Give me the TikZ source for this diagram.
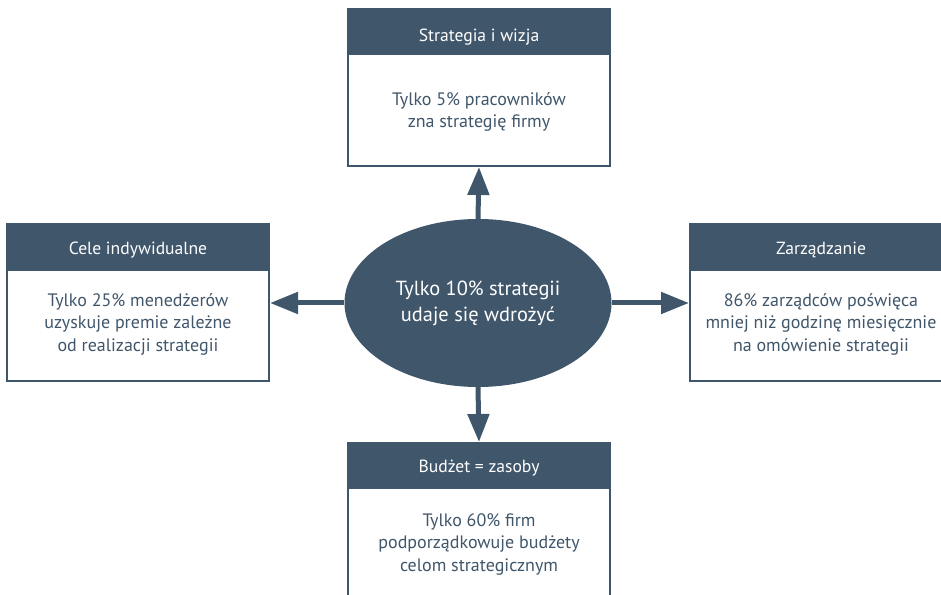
\documentclass[tikz,border=0pt]{standalone}
\usepackage{fontspec}
\setmainfont{PT Sans}
\usetikzlibrary{shapes.geometric,arrows.meta}
\definecolor{slate}{RGB}{64,86,107}
\begin{document}
\begin{tikzpicture}[x=1pt,y=1pt,
  boxframe/.style={draw=slate,line width=2pt,fill=white},
  headtext/.style={text=white,font=\fontsize{17.6}{20}\selectfont},
  bodytext/.style={text=slate,align=center,font=\fontsize{18}{22.5}\selectfont},
  conn/.style={draw=slate,line width=5pt,-{Triangle[length=28pt,width=21pt]},shorten >=1pt}
]
\useasboundingbox (0,0) rectangle (941,594);
% top box
\draw[boxframe] (348,585) rectangle (610,428);
\fill[slate] (347,586) rectangle (611,539);
\node[headtext] (th) at (479,557) {Strategia i wizja};
\node[bodytext] (tb) at (479,482) {Tylko 5\% pracowników\\zna strategię firmy};
\coordinate (tbot) at (479,428);
% left box
\draw[boxframe] (7,370) rectangle (269,213);
\fill[slate] (6,371) rectangle (270,323);
\node[headtext] (lh) at (138,344) {Cele indywidualne};
\node[bodytext] (lb) at (138,270) {Tylko 25\% menedżerów\\uzyskuje premie zależne\\od realizacji strategii};
\coordinate (lright) at (269,291);
% right box
\draw[boxframe] (690,370) rectangle (952,213);
\fill[slate] (689,371) rectangle (953,323);
\node[headtext] (rh) at (821,344) {Zarządzanie};
\node[bodytext] (rb) at (821,270) {86\% zarządców poświęca\\mniej niż godzinę miesięcznie\\na omówienie strategii};
\coordinate (rleft) at (690,291);
% bottom box
\draw[boxframe] (348,151) rectangle (610,-10);
\fill[slate] (347,152) rectangle (611,105);
\node[headtext] (bh) at (479,126) {Budżet = zasoby};
\node[bodytext] (bb) at (479,50) {Tylko 60\% firm\\podporządkowuje budżety\\celom strategicznym};
\coordinate (btop) at (479,151);
% ellipse
\node[ellipse,fill=slate,minimum width=267pt,minimum height=168pt,inner sep=0pt,
  text=white,align=center,font=\fontsize{20.4}{26}\selectfont] (c) at (478,291)
  {Tylko 10\% strategii\\udaje się wdrożyć};
\draw[conn] (c.north) -- (tbot);
\draw[conn] (c.south) -- (btop);
\draw[conn] (c.west) -- (lright);
\draw[conn] (c.east) -- (rleft);
\end{tikzpicture}
\end{document}
